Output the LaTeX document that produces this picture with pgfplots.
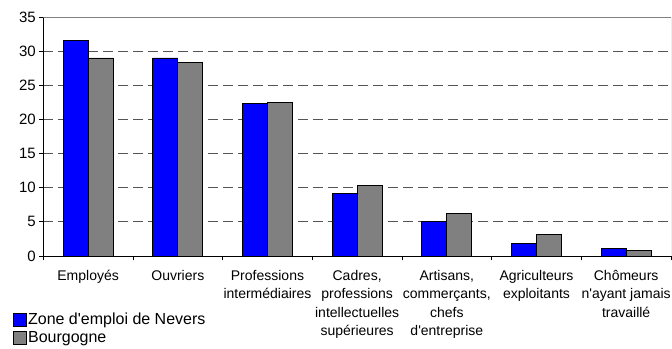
\documentclass[border=0pt]{standalone}
\usepackage{fontspec}
\setmainfont{Liberation Sans}
\usepackage{pgfplots}
\pgfplotsset{compat=1.18}
\definecolor{barblue}{RGB}{0,0,255}
\definecolor{bargray}{RGB}{128,128,128}
\definecolor{gridgray}{RGB}{85,85,85}
\pgfplotsset{sqlegend/.style={legend image code/.code={\draw[##1,draw=black,line width=0.7bp] (0bp,-6.2bp) rectangle (12.4bp,6.2bp);}}}
\begin{document}
\begin{tikzpicture}
\useasboundingbox (0,0) rectangle (672bp,349bp);
\begin{axis}[
  at={(43.3bp,93bp)}, anchor=south west,
  scale only axis, width=627.7bp, height=239bp,
  xmin=-0.5, xmax=6.5, ymin=0, ymax=35,
  ybar=0pt, bar width=25bp,
  axis x line*=bottom, axis y line*=left,
  axis line style={-, black, line width=0.8bp},
  xtick={-0.5,0.5,1.5,2.5,3.5,4.5,5.5,6.5},
  x tick label as interval,
  xticklabels={Employés, Ouvriers, {Professions\\intermédiaires}, {Cadres,\\professions\\intellectuelles\\supérieures}, {Artisans,\\commerçants,\\chefs\\d\textquotesingle entreprise}, {Agriculteurs\\exploitants}, {Chômeurs\\n\textquotesingle ayant jamais\\travaillé}},
  xticklabel style={align=center, font=\fontsize{14bp}{18.5bp}\selectfont, inner sep=0pt, yshift=-10bp},
  ytick={0,5,...,35},
  yticklabel style={font=\fontsize{15bp}{18bp}\selectfont},
  /pgf/number format/assume math mode=true,
  tick align=outside, major tick length=4bp,
  tick style={black, line width=0.8bp},
  ymajorgrids,
  grid style={dash pattern=on 9.5bp off 5.5bp, gridgray, line width=0.8bp},
  legend style={at={(-0.0478,-0.232)}, anchor=north west, draw=none, fill=none, inner sep=0pt, font=\fontsize{16bp}{18bp}\selectfont, row sep=2.5bp, nodes={inner sep=1.5bp}},
  legend cell align=left,
]
\addplot[fill=barblue, draw=black, line width=0.8bp, sqlegend] coordinates {(0,31.5) (1,29.0) (2,22.3) (3,9.1) (4,5.0) (5,1.9) (6,1.1)};
\addplot[fill=bargray, draw=black, line width=0.8bp, sqlegend] coordinates {(0,29.0) (1,28.3) (2,22.5) (3,10.3) (4,6.2) (5,3.1) (6,0.8)};
\legend{Zone d\textquotesingle emploi de Nevers, Bourgogne}
\draw[gray, line width=0.8bp] (rel axis cs:0,1) -- (rel axis cs:1,1) -- (rel axis cs:1,0);
\end{axis}
\end{tikzpicture}
\end{document}
